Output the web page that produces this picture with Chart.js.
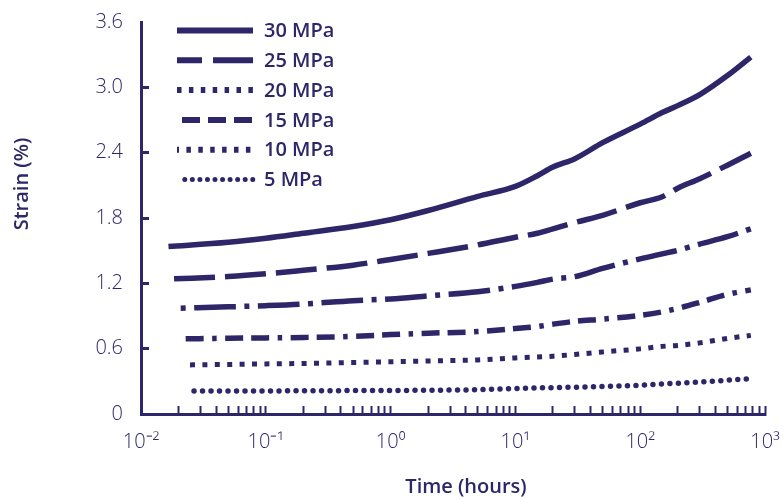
<!DOCTYPE html>
<html>
<head>
<meta charset="utf-8">
<script src="https://cdn.jsdelivr.net/npm/chart.js@4.4.0/dist/chart.umd.min.js"></script>
<style>
  html, body { margin: 0; padding: 0; background: #fff; }
</style>
</head>
<body>
<canvas id="chart" width="784" height="499"></canvas>
<script>
// creep strain vs time, one line per stress level
const labels = ['30 MPa', '25 MPa', '20 MPa', '15 MPa', '10 MPa', '5 MPa'];
const startHours = [0.0166, 0.0184, 0.0208, 0.0228, 0.0247, 0.0266];
const hours = [0.05, 0.1, 0.2, 0.5, 1, 2, 5, 10, 15, 20, 30, 50, 100, 150, 200, 300, 500, 770];

const strain30 = [1.538, 1.577, 1.614, 1.660, 1.722, 1.784, 1.869, 1.998, 2.090, 2.188, 2.268, 2.345, 2.492, 2.662, 2.768, 2.832, 2.933, 3.108, 3.278];
const strain25 = [1.241, 1.262, 1.287, 1.320, 1.367, 1.419, 1.475, 1.553, 1.623, 1.660, 1.701, 1.759, 1.825, 1.940, 1.995, 2.074, 2.161, 2.285, 2.395];
const strain20 = [0.972, 0.984, 0.995, 1.010, 1.041, 1.057, 1.085, 1.122, 1.172, 1.209, 1.239, 1.262, 1.338, 1.425, 1.471, 1.503, 1.561, 1.628, 1.701];
const strain15 = [0.690, 0.696, 0.699, 0.703, 0.713, 0.729, 0.742, 0.757, 0.785, 0.803, 0.825, 0.851, 0.871, 0.906, 0.938, 0.970, 1.025, 1.099, 1.140];
const strain10 = [0.451, 0.455, 0.460, 0.464, 0.473, 0.480, 0.487, 0.497, 0.515, 0.524, 0.531, 0.547, 0.570, 0.598, 0.621, 0.630, 0.653, 0.694, 0.722];
const strain5  = [0.211, 0.212, 0.212, 0.213, 0.215, 0.216, 0.218, 0.223, 0.234, 0.239, 0.242, 0.246, 0.253, 0.264, 0.276, 0.283, 0.294, 0.310, 0.324];

const xDecades = [-2, -1, 0, 1, 2, 3];
const xTickLabels = ['10⁻²', '10⁻¹', '10⁰', '10¹', '10²', '10³'];
const yTickLabels = ['0', '0.6', '1.2', '1.8', '2.4', '3.0', '3.6'];
const xTitle = 'Time (hours)';
const yTitle = 'Strain (%)';

const ink = '#2d2668';
const series = [strain30, strain25, strain20, strain15, strain10, strain5];

// line looks in the plot
const plotDash = [[], [41, 10], [5, 8.5, 41.7, 8.5], [18, 8.5, 4.5, 8.5, 18, 8], [5, 7.4], [0, 8.5]];
const plotCap = ['butt', 'butt', 'butt', 'butt', 'butt', 'round'];
// the legend keys are drawn a bit differently in the original
const legendDash = [[], [40, 11], [4.5, 7.4], [18, 8], [4.5, 7.4], [0, 7.55]];
const legendOffset = [0, 15, 0, 0, 2.5, 0];
const legendInset = [0, 0, 0, 5, 0, 7.8];

const datasets = series.map((vals, i) => ({
  label: labels[i],
  data: [{ x: startHours[i], y: vals[0] }].concat(hours.map((h, j) => ({ x: h, y: vals[j + 1] }))),
  borderColor: ink,
  borderWidth: i === 4 ? 5 : 5.5,
  borderDash: plotDash[i],
  borderCapStyle: plotCap[i],
  pointRadius: 0,
  fill: false,
  cubicInterpolationMode: 'monotone'
}));

const xTickValues = [];
xDecades.forEach((d, k) => {
  const last = k === xDecades.length - 1;
  for (let m = 1; m <= (last ? 1 : 9); m++) xTickValues.push(m * Math.pow(10, d));
});

const legendKeys = {
  id: 'legendKeys',
  afterDatasetsDraw(chart) {
    const ctx = chart.ctx, area = chart.chartArea;
    const x0 = area.left + 36, x1 = area.left + 112, y0 = area.top + 8.5;
    chart.data.datasets.forEach((ds, i) => {
      const y = y0 + i * 29.8;
      ctx.save();
      ctx.strokeStyle = ink;
      ctx.lineWidth = i === 5 ? 5 : 6;
      ctx.setLineDash(legendDash[i]);
      ctx.lineDashOffset = legendOffset[i];
      ctx.lineCap = i === 5 ? 'round' : 'butt';
      ctx.beginPath();
      ctx.moveTo(x0 + legendInset[i], y);
      ctx.lineTo(x1, y);
      ctx.stroke();
      ctx.setLineDash([]);
      ctx.fillStyle = ink;
      ctx.font = '600 20px "Open Sans"';
      ctx.textBaseline = 'middle';
      ctx.textAlign = 'left';
      ctx.fillText(ds.label, x1 + 11, y + 1);
      ctx.restore();
    });
  }
};

const axisTitles = {
  id: 'axisTitles',
  afterDraw(chart) {
    const ctx = chart.ctx, area = chart.chartArea;
    ctx.save();
    ctx.fillStyle = ink;
    ctx.font = '600 20px "Open Sans"';
    ctx.textAlign = 'center';
    ctx.textBaseline = 'alphabetic';
    ctx.fillText(xTitle, area.left + 325, area.bottom + 78.5);
    ctx.translate(28, area.top + 162);
    ctx.rotate(-Math.PI / 2);
    ctx.fillText(yTitle, 0, 0);
    ctx.restore();
  }
};

new Chart(document.getElementById('chart'), {
  type: 'line',
  data: { datasets },
  options: {
    responsive: false,
    animation: false,
    layout: { padding: { top: 22, right: 19, left: 0, bottom: 0 } },
    plugins: { legend: { display: false }, tooltip: { enabled: false } },
    scales: {
      x: {
        type: 'logarithmic',
        min: 0.01,
        max: 1000,
        afterBuildTicks: axis => { axis.ticks = xTickValues.map(v => ({ value: v })); },
        afterFit: axis => { axis.height = 85; axis.paddingLeft = 0; axis.paddingRight = 0; },
        border: { display: true, color: ink, width: 3 },
        grid: { drawOnChartArea: false, drawTicks: true, tickLength: -8, tickColor: ink, tickWidth: 2 },
        ticks: {
          autoSkip: false,
          maxRotation: 0,
          minRotation: 0,
          padding: 24,
          color: ink,
          font: { family: '"Open Sans", sans-serif', size: 20, weight: '300' },
          callback: v => {
            const k = xDecades.indexOf(Math.round(Math.log10(v)));
            return Math.abs(Math.log10(v) - Math.round(Math.log10(v))) < 1e-9 && k >= 0 ? xTickLabels[k] : '';
          }
        }
      },
      y: {
        min: 0,
        max: 3.6,
        afterFit: axis => { axis.width = 141; axis.paddingTop = 0; axis.paddingBottom = 0; },
        border: { display: true, color: ink, width: 3 },
        grid: {
          drawOnChartArea: false, drawTicks: true, tickLength: -8, tickWidth: 3,
          tickColor: c => (c.index === yTickLabels.length - 1 ? 'rgba(0,0,0,0)' : ink)
        },
        ticks: {
          stepSize: 0.6,
          padding: 26,
          color: ink,
          font: { family: '"Open Sans", sans-serif', size: 20, weight: '300' },
          callback: (v, i) => yTickLabels[i]
        }
      }
    }
  },
  plugins: [legendKeys, axisTitles]
});
</script>
</body>
</html>
